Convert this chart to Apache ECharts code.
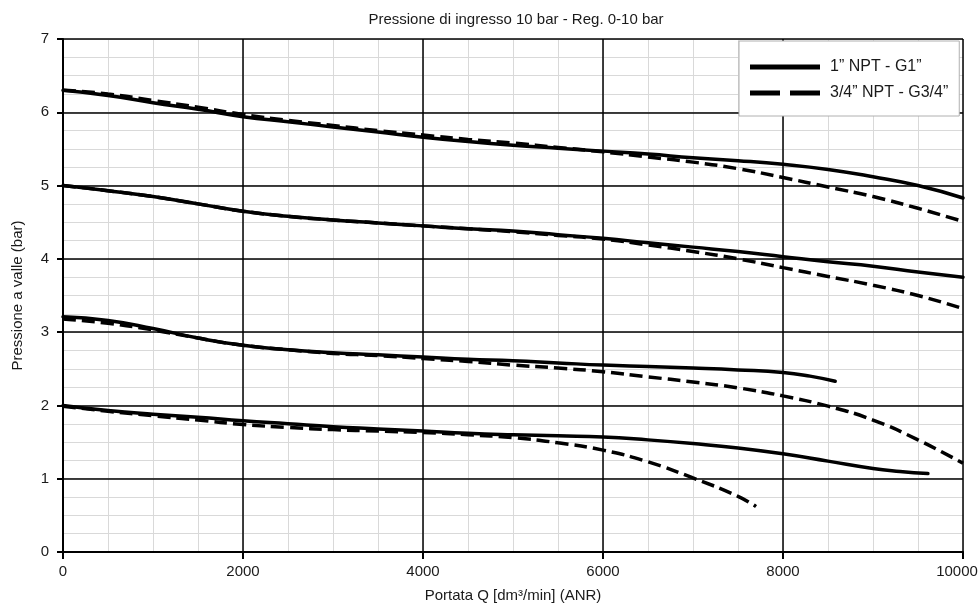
<!DOCTYPE html>
<html>
<head>
<meta charset="utf-8">
<script src="https://cdn.jsdelivr.net/npm/echarts@6/dist/echarts.min.js"></script>
<style>
html,body{margin:0;padding:0;background:#fff;}
#chart{width:979px;height:609px;}
</style>
</head>
<body>
<div id="chart"></div>
<script>
// ---- data ----
const titleText = 'Pressione di ingresso 10 bar - Reg. 0-10 bar';
const xName = 'Portata Q [dm³/min] (ANR)';
const yName = 'Pressione a valle (bar)';
const nameG1 = '1” NPT - G1”';
const nameG34 = '3/4” NPT - G3/4”';
const xTicks = [0, 2000, 4000, 6000, 8000, 10000];
const yTicks = [0, 1, 2, 3, 4, 5, 6, 7];

const flowFull = [0,500,1000,1500,2000,2500,3000,3500,4000,4500,5000,5500,6000,6500,7000,7500,8000,8500,9000,9500,10000];

// set at 6.3 bar
const g1_p63  = [6.30,6.23,6.13,6.04,5.94,5.87,5.80,5.73,5.66,5.60,5.55,5.51,5.47,5.43,5.38,5.34,5.29,5.22,5.12,5.00,4.83];
const g34_p63 = [6.30,6.25,6.16,6.07,5.97,5.89,5.82,5.75,5.69,5.63,5.58,5.52,5.46,5.39,5.32,5.23,5.11,4.98,4.85,4.69,4.51];
// set at 5 bar
const g1_p5   = [5.00,4.93,4.85,4.75,4.65,4.58,4.53,4.49,4.45,4.41,4.38,4.33,4.28,4.22,4.16,4.10,4.03,3.96,3.90,3.82,3.75];
const g34_p5  = [5.00,4.93,4.85,4.75,4.65,4.58,4.53,4.49,4.45,4.41,4.37,4.32,4.27,4.19,4.10,4.00,3.88,3.76,3.64,3.50,3.32];
// set at 3.2 bar
const flowG1_p3 = [0,500,1000,1500,2000,2500,3000,3500,4000,4500,5000,5500,6000,6500,7000,7500,8000,8300,8580];
const g1_p3   = [3.21,3.16,3.05,2.92,2.82,2.76,2.72,2.69,2.66,2.63,2.61,2.58,2.55,2.53,2.51,2.485,2.45,2.40,2.33];
const g34_p3  = [3.18,3.12,3.03,2.92,2.82,2.76,2.71,2.68,2.64,2.60,2.55,2.51,2.46,2.39,2.32,2.24,2.13,1.99,1.80,1.53,1.21];
// set at 2 bar
const flowG1_p2 = [0,500,1000,1500,2000,2500,3000,3500,4000,4500,5000,5500,6000,6500,7000,7500,8000,8500,9000,9300,9610];
const g1_p2   = [2.00,1.93,1.88,1.84,1.79,1.75,1.71,1.68,1.65,1.62,1.60,1.585,1.57,1.53,1.48,1.42,1.34,1.24,1.14,1.10,1.07];
const flowG34_p2 = [0,500,1000,1500,2000,2500,3000,3500,4000,4500,5000,5500,6000,6500,7000,7500,7700];
const g34_p2  = [1.99,1.92,1.86,1.80,1.74,1.70,1.67,1.65,1.63,1.60,1.56,1.49,1.39,1.23,1.01,0.76,0.62];

// ---- chart ----
const FONT = '"Liberation Sans", Arial, Helvetica, sans-serif';
const TXT = '#1a1a1a';
const zip = (xs, ys) => xs.map((x, i) => [x, ys[i]]);

function solid(data) {
  return {
    type: 'line', name: nameG1, data: data, xAxisIndex: 1, yAxisIndex: 1,
    showSymbol: false, symbol: 'none', smooth: 0.5, z: 3,
    lineStyle: { color: '#000', width: 3.5, cap: 'round', join: 'round' },
    itemStyle: { color: '#000' }
  };
}
function dashed(data) {
  return {
    type: 'line', name: nameG34, data: data, xAxisIndex: 1, yAxisIndex: 1,
    showSymbol: false, symbol: 'none', smooth: 0.5, z: 3,
    lineStyle: { color: '#000', width: 3.5, type: [13, 6], cap: 'butt' },
    itemStyle: { color: '#000' }
  };
}

const xMaxTick = xTicks[xTicks.length - 1];

const chart = echarts.init(document.getElementById('chart'), null, { renderer: 'canvas' });
chart.setOption({
  animation: false,
  backgroundColor: '#fff',
  textStyle: { fontFamily: FONT, color: TXT },
  title: {
    text: titleText, left: 511, top: 7, textAlign: 'center',
    textStyle: { fontFamily: FONT, fontSize: 15, fontWeight: 'normal', color: TXT }
  },
  grid: { left: 63, right: 16, top: 39, bottom: 57, containLabel: false, outerBoundsMode: 'none' },
  legend: {
    orient: 'vertical', left: 739, top: 41,
    backgroundColor: '#fff', borderColor: '#b0b0b0', borderWidth: 1, borderRadius: 0,
    padding: [18, 11, 15, 11],
    itemWidth: 70, itemHeight: 5, itemGap: 10,
    textStyle: { fontFamily: FONT, fontSize: 16, color: TXT, padding: [0, 0, 0, 5] },
    data: [
      { name: nameG1, icon: 'path://M0,0H70V5H0Z', itemStyle: { color: '#000', borderWidth: 0 } },
      { name: nameG34, icon: 'path://M0,0H30V5H0Z M40,0H70V5H40Z', itemStyle: { color: '#000', borderWidth: 0 } }
    ],
    z: 10
  },
  xAxis: [
    { // minor grid
      type: 'value', min: 0, max: 10000, interval: 500, z: 0, position: 'bottom',
      axisLine: { show: false }, axisTick: { show: false }, axisLabel: { show: false },
      splitLine: { show: true, lineStyle: { color: '#d9d9d9', width: 1 } }
    },
    { // major grid + labels
      type: 'value', min: 0, max: 10000, interval: 2000, z: 1, position: 'bottom',
      name: xName, nameLocation: 'middle', nameGap: 36,
      nameTextStyle: { fontFamily: FONT, fontSize: 15, color: TXT },
      axisLine: { show: true, onZero: false, lineStyle: { color: '#000', width: 2 } },
      axisTick: { show: true, inside: false, length: 7, lineStyle: { color: '#000', width: 2 } },
      axisLabel: { show: true, margin: 12, fontFamily: FONT, fontSize: 15, color: TXT,
        formatter: v => (xTicks.indexOf(v) < 0 ? '' : (v === xMaxTick ? '{m|' + v + '}' : String(v))),
        rich: { m: { fontFamily: FONT, fontSize: 15, color: TXT, padding: [0, 12, 0, 0] } } },
      splitLine: { show: true, lineStyle: { color: '#000', width: 1.5 } }
    }
  ],
  yAxis: [
    {
      type: 'value', min: 0, max: 7, interval: 0.25, z: 0, position: 'left',
      axisLine: { show: false }, axisTick: { show: false }, axisLabel: { show: false },
      splitLine: { show: true, lineStyle: { color: '#d9d9d9', width: 1 } }
    },
    {
      type: 'value', min: 0, max: 7, interval: 1, z: 1, position: 'left',
      name: yName, nameLocation: 'middle', nameGap: 38, nameRotate: 90,
      nameTextStyle: { fontFamily: FONT, fontSize: 15, color: TXT },
      axisLine: { show: true, onZero: false, lineStyle: { color: '#000', width: 2 } },
      axisTick: { show: true, inside: false, length: 6, lineStyle: { color: '#000', width: 2 } },
      axisLabel: { show: true, margin: 14, fontFamily: FONT, fontSize: 15, color: TXT,
        formatter: v => (yTicks.indexOf(v) >= 0 ? String(v) : '') },
      splitLine: { show: true, lineStyle: { color: '#000', width: 1.5 } }
    }
  ],
  series: [
    solid(zip(flowFull, g1_p63)),
    dashed(zip(flowFull, g34_p63)),
    solid(zip(flowFull, g1_p5)),
    dashed(zip(flowFull, g34_p5)),
    solid(zip(flowG1_p3, g1_p3)),
    dashed(zip(flowFull, g34_p3)),
    solid(zip(flowG1_p2, g1_p2)),
    dashed(zip(flowG34_p2, g34_p2))
  ]
});
</script>
</body>
</html>
